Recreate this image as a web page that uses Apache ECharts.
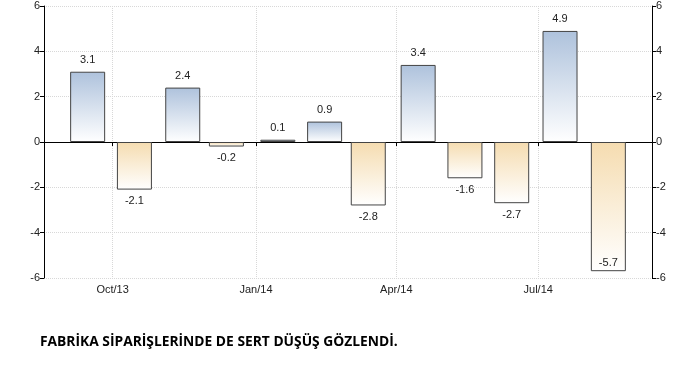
<!DOCTYPE html>
<html><head><meta charset="utf-8">
<script src="https://cdn.jsdelivr.net/npm/echarts@6/dist/echarts.min.js"></script>
<style>html,body{margin:0;padding:0;background:#fff}#c{width:679px;height:392px}</style>
</head><body><div id="c"></div>
<script>
var dates = ['2013-09-15','2013-10-15','2013-11-15','2013-12-13','2014-01-15','2014-02-14','2014-03-14','2014-04-15','2014-05-15','2014-06-14','2014-07-15','2014-08-15'];
var values = [3.1, -2.1, 2.4, -0.2, 0.1, 0.9, -2.8, 3.4, -1.6, -2.7, 4.9, -5.7];
var yTicks = [-6, -4, -2, 0, 2, 4, 6];
var monthNames = ['Jan','Feb','Mar','Apr','May','Jun','Jul','Aug','Sep','Oct','Nov','Dec'];
var title = 'FABRİKA SİPARİŞLERİNDE DE SERT DÜŞÜŞ GÖZLENDİ.';

var yMin = yTicks[0], yMax = yTicks[yTicks.length - 1];
// visible time range; ECharts widens a bar axis by half a bar each side, so shrink first
var visMin = new Date('2013-08-18T00:00:00').getTime();
var visMax = new Date('2014-09-12T00:00:00').getTime();
var plotW = 608, barW = 35;
var newRange = visMax - visMin;
var oldRange = newRange * (1 - barW / plotW);
var inset = (newRange - oldRange) / 2;

function grad(c) {
  return new echarts.graphic.LinearGradient(0, 0, 0, 1, [{offset: 0, color: c}, {offset: 1, color: '#ffffff'}]);
}
var data = values.map(function (v, i) {
  var pos = v >= 0 ? 'top' : (v < yMin + 1 ? 'insideBottom' : 'bottom');
  return {
    value: [dates[i], v],
    itemStyle: {color: grad(v >= 0 ? '#aec2dc' : '#f5dcb0')},
    label: {position: pos, distance: pos === 'insideBottom' ? 3 : 6}
  };
});
var chart = echarts.init(document.getElementById('c'));
var yAxisBase = {
  type: 'value', min: yMin, max: yMax, interval: 2,
  axisLine: {show: true, lineStyle: {color: '#000', width: 1}},
  axisTick: {show: true, length: 4, lineStyle: {color: '#000'}},
  axisLabel: {color: '#222', fontSize: 11, fontFamily: 'Liberation Sans', margin: 4}
};
chart.setOption({
  animation: false,
  grid: {left: 44, right: 27, top: 6, bottom: 114, containLabel: false},
  xAxis: {
    type: 'time', min: visMin + inset, max: visMax - inset, splitNumber: 4,
    axisLine: {lineStyle: {color: '#000', width: 1}},
    axisTick: {show: true, length: 4, lineStyle: {color: '#000'}},
    axisLabel: {color: '#222', fontSize: 11, fontFamily: 'Liberation Sans', margin: 6,
      formatter: function (val) { var d = new Date(val); return monthNames[d.getMonth()] + '/' + String(d.getFullYear()).slice(2); }},
    splitLine: {show: true, lineStyle: {color: '#d8d8d8', type: 'dotted'}}
  },
  yAxis: [
    Object.assign({}, yAxisBase, {position: 'left', splitLine: {show: true, lineStyle: {color: '#d8d8d8', type: 'dotted'}}}),
    Object.assign({}, yAxisBase, {position: 'right', splitLine: {show: false}})
  ],
  series: [{
    type: 'bar', data: data, barWidth: barW,
    itemStyle: {borderColor: '#444', borderWidth: 1},
    label: {show: true, color: '#222', fontSize: 11, fontFamily: 'Liberation Sans'}
  }],
  graphic: [{
    type: 'text', left: 40, top: 335,
    style: {text: title, font: 'bold 13.8px "Open Sans"', fill: '#000'}
  }]
});
</script></body></html>
